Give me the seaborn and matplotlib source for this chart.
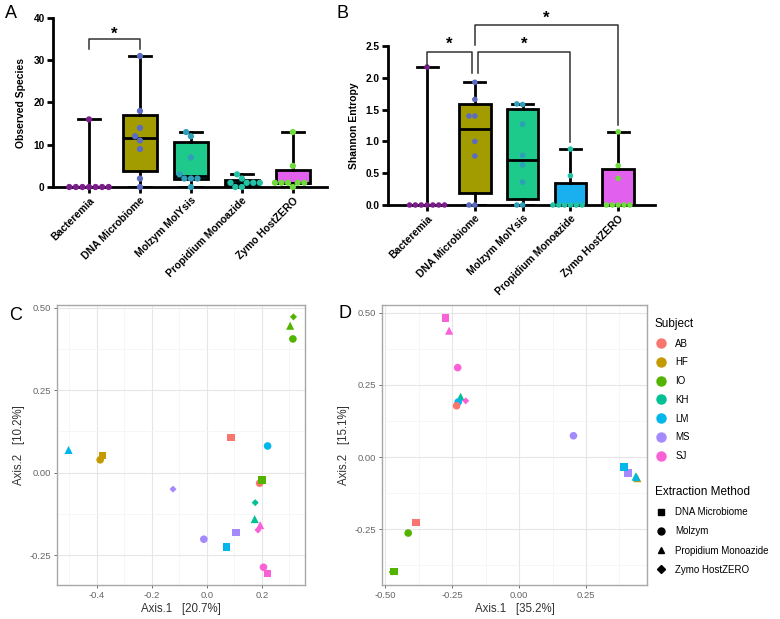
import numpy as np
import pandas as pd
import matplotlib
matplotlib.use("Agg")
import matplotlib.pyplot as plt
import seaborn as sns
from matplotlib.lines import Line2D
from matplotlib.ticker import FixedLocator

# ---------------- data ----------------
groups = ["Bacteremia", "DNA Microbiome", "Molzym MolYsis",
          "Propidium Monoazide", "Zymo HostZERO"]

obs_bact = [0, 0, 0, 0, 0, 0, 0, 16]
obs_dna = [0, 2, 9, 11, 12, 14, 18, 31]
obs_molz = [0, 2, 2, 2, 3, 7, 12, 13]
obs_pma = [0, 0, 1, 1, 1, 1, 2, 3]
obs_zymo = [0, 1, 1, 1, 1, 1, 5, 13]

sh_bact = [0, 0, 0, 0, 0, 0, 0, 2.17]
sh_dna = [0, 0, 0.77, 1.00, 1.40, 1.40, 1.66, 1.93]
sh_molz = [0, 0, 0.36, 0.63, 0.78, 1.27, 1.58, 1.59]
sh_pma = [0, 0, 0, 0, 0, 0, 0.46, 0.88]
sh_zymo = [0, 0, 0, 0, 0, 0.42, 0.62, 1.15]

subjects = ["AB", "HF", "IO", "KH", "LM", "MS", "SJ"]
methods = ["DNA Microbiome", "Molzym", "Propidium Monoazide", "Zymo HostZERO"]

c_subject = ["IO", "IO", "IO", "LM", "HF", "HF", "AB", "LM", "AB", "IO",
             "MS", "KH", "KH", "SJ", "SJ", "MS", "MS", "LM", "SJ", "SJ"]
c_method = ["Zymo HostZERO", "Propidium Monoazide", "Molzym", "Propidium Monoazide",
            "DNA Microbiome", "Molzym", "DNA Microbiome", "Molzym", "Molzym",
            "DNA Microbiome", "Zymo HostZERO", "Zymo HostZERO", "Propidium Monoazide",
            "Propidium Monoazide", "Zymo HostZERO", "DNA Microbiome", "Molzym",
            "DNA Microbiome", "Molzym", "DNA Microbiome"]
c_x = [0.315, 0.303, 0.313, -0.503, -0.379, -0.388, 0.087, 0.221, 0.192, 0.200,
       -0.123, 0.176, 0.174, 0.194, 0.186, 0.107, -0.011, 0.071, 0.206, 0.220]
c_y = [0.473, 0.446, 0.406, 0.069, 0.052, 0.039, 0.107, 0.081, -0.032, -0.022,
       -0.050, -0.091, -0.141, -0.159, -0.174, -0.182, -0.202, -0.225, -0.287, -0.306]

d_subject = ["SJ", "SJ", "SJ", "KH", "LM", "AB", "SJ", "AB", "IO", "IO", "IO",
             "MS", "HF", "KH", "LM", "MS", "LM"]
d_method = ["DNA Microbiome", "Propidium Monoazide", "Molzym", "Propidium Monoazide",
            "Molzym", "Molzym", "Zymo HostZERO", "DNA Microbiome", "Molzym",
            "Zymo HostZERO", "DNA Microbiome", "Molzym", "Propidium Monoazide",
            "Propidium Monoazide", "Propidium Monoazide", "DNA Microbiome", "DNA Microbiome"]
d_x = [-0.275, -0.262, -0.230, -0.219, -0.228, -0.234, -0.200, -0.386, -0.415,
       -0.475, -0.467, 0.203, 0.442, 0.436, 0.438, 0.408, 0.393]
d_y = [0.481, 0.438, 0.310, 0.209, 0.191, 0.178, 0.195, -0.227, -0.263,
       -0.398, -0.396, 0.074, -0.073, -0.067, -0.069, -0.056, -0.035]

# ---------------- styles ----------------
box_colors = ["#7B1E8C", "#A39C00", "#1DC98B", "#1AAFEF", "#E260EE"]
dot_colors = ["#7B1E8C", "#5A6BC3", "#2E9EBB", "#22C3A5", "#6FDB3C"]
subj_colors = ["#F8766D", "#C49A00", "#53B400", "#00C094", "#00B6EB", "#A58AFF", "#FB61D7"]
marker_map = {"DNA Microbiome": "s", "Molzym": "o",
              "Propidium Monoazide": "^", "Zymo HostZERO": "D"}
size_map = {"DNA Microbiome": 30, "Molzym": 30,
            "Propidium Monoazide": 34, "Zymo HostZERO": 13}

plt.rcParams["font.family"] = ["Liberation Sans", "DejaVu Sans"]

fig = plt.figure(figsize=(7.8, 6.19), dpi=100)
W, H = 780, 619


def place(l, r, t, b):
    return fig.add_axes([l / W, 1 - b / H, (r - l) / W, (b - t) / H])


def prism_panel(ax, values, ylabel, ymax, yticks, dot, xlim):
    df = pd.DataFrame({"group": np.repeat(groups, [len(v) for v in values]),
                       "value": np.concatenate(values)})
    stats = []
    for v in values:
        q1, med, q3 = np.percentile(v, [25, 50, 75], method="weibull")
        stats.append(dict(med=med, q1=q1, q3=q3, whislo=min(v), whishi=max(v), fliers=[]))
    bp = ax.bxp(stats, positions=range(len(groups)), widths=0.66, capwidths=0.44,
                patch_artist=True, showfliers=False, manage_ticks=False,
                boxprops=dict(lw=2, edgecolor="black"),
                medianprops=dict(color="black", lw=2),
                whiskerprops=dict(lw=2, color="black"),
                capprops=dict(lw=2, color="black"))
    for patch, c in zip(bp["boxes"], box_colors):
        patch.set_facecolor(c)
        patch.set_zorder(2)
    sns.swarmplot(data=df, x="group", y="value", hue="group", order=groups,
                  hue_order=groups, palette=dot_colors, size=dot, legend=False,
                  ax=ax, zorder=4, clip_on=False, linewidth=0, warn_thresh=1)
    ax.set_xlim(*xlim)
    ax.set_ylim(0, ymax)
    ax.set_yticks(yticks)
    ax.set_xticks(range(len(groups)))
    ax.set_xticklabels(groups, rotation=45, ha="right", rotation_mode="anchor",
                       fontsize=7.5, fontweight="bold")
    for lab in ax.get_yticklabels():
        lab.set_fontweight("bold")
        lab.set_fontsize(7.3)
    ax.set_xlabel("")
    ax.set_ylabel(ylabel, fontsize=7.5, fontweight="bold", labelpad=5)
    for s in ["top", "right"]:
        ax.spines[s].set_visible(False)
    for s in ["left", "bottom"]:
        ax.spines[s].set_linewidth(2)
    ax.tick_params(axis="both", width=2, length=4, pad=2)
    ax.set_facecolor("none")


def bracket(ax, xs, ys):
    ax.plot(xs, ys, color="#333333", lw=1.1, clip_on=False, zorder=5)


# ---------------- Panel A ----------------
axA = place(53, 327, 18, 187)
prism_panel(axA, [obs_bact, obs_dna, obs_molz, obs_pma, obs_zymo],
            "Observed Species", 40, [0, 10, 20, 30, 40], 4.5, (-0.706, 4.67))
bracket(axA, [0, 0, 1, 1], [32.7, 35.0, 35.0, 32.7])
axA.text(0.5, 36.2, "*", ha="center", va="center", fontsize=12, fontweight="bold")

# ---------------- Panel B ----------------
axB = place(388, 655, 46, 205)
prism_panel(axB, [sh_bact, sh_dna, sh_molz, sh_pma, sh_zymo],
            "Shannon Entropy", 2.5, [0, 0.5, 1.0, 1.5, 2.0, 2.5], 4.0, (-0.817, 4.77))
axB.set_yticklabels(["0.0", "0.5", "1.0", "1.5", "2.0", "2.5"], fontweight="bold", fontsize=7.3)
bracket(axB, [0, 0, 0.94, 0.94], [2.20, 2.405, 2.405, 2.075])
bracket(axB, [1.06, 1.06, 3, 3], [2.075, 2.405, 2.405, 0.99])
bracket(axB, [1, 1, 4, 4], [2.52, 2.83, 2.83, 1.26])
axB.text(0.47, 2.52, "*", ha="center", va="center", fontsize=12, fontweight="bold")
axB.text(2.03, 2.52, "*", ha="center", va="center", fontsize=12, fontweight="bold")
axB.text(2.49, 2.94, "*", ha="center", va="center", fontsize=12, fontweight="bold")


# ---------------- Panels C & D ----------------
def bw_panel(ax, xs, ys, subj, meth, xlim, ylim, xticks, xlabels, xminor, xlabel, ylabel):
    df = pd.DataFrame({"x": xs, "y": ys, "Subject": subj, "Method": meth})
    ax.set_axisbelow(True)
    sns.scatterplot(data=df, x="x", y="y", hue="Subject", hue_order=subjects,
                    palette=subj_colors, style="Method", style_order=methods,
                    markers=marker_map, size="Method", sizes=size_map,
                    size_order=methods, linewidth=0, legend=False, ax=ax, zorder=3)
    ax.set_xlim(*xlim)
    ax.set_ylim(*ylim)
    ax.set_xticks(xticks)
    ax.set_xticklabels(xlabels)
    ax.set_yticks([-0.25, 0.0, 0.25, 0.50])
    ax.set_yticklabels(["-0.25", "0.00", "0.25", "0.50"])
    ax.xaxis.set_minor_locator(FixedLocator(xminor))
    ax.yaxis.set_minor_locator(FixedLocator([-0.375, -0.125, 0.125, 0.375]))
    ax.grid(which="major", color="#E6E6E6", lw=0.8)
    ax.grid(which="minor", color="#F3F3F3", lw=0.5)
    ax.tick_params(which="minor", length=0)
    ax.tick_params(which="major", length=2.5, width=0.6, color="#555555",
                   labelcolor="#666666", labelsize=6.8, pad=2)
    for s in ax.spines.values():
        s.set_color("#A8A8A8")
        s.set_linewidth(1.0)
    ax.set_xlabel(xlabel, fontsize=8.3, color="#333333", labelpad=2)
    ax.set_ylabel(ylabel, fontsize=8.3, color="#333333", labelpad=3)


axC = place(57, 305, 305, 585)
bw_panel(axC, c_x, c_y, c_subject, c_method, (-0.545, 0.357), (-0.341, 0.509),
         [-0.4, -0.2, 0.0, 0.2], ["-0.4", "-0.2", "0.0", "0.2"],
         [-0.5, -0.3, -0.1, 0.1, 0.3], "Axis.1   [20.7%]", "Axis.2   [10.2%]")

axD = place(382, 647, 305, 585)
bw_panel(axD, d_x, d_y, d_subject, d_method, (-0.513, 0.478), (-0.443, 0.527),
         [-0.5, -0.25, 0.0, 0.25], ["-0.50", "-0.25", "0.00", "0.25"],
         [-0.375, -0.125, 0.125, 0.375], "Axis.1   [35.2%]", "Axis.2   [15.1%]")

# ---------------- Legends ----------------
subj_handles = [Line2D([], [], marker="o", ls="", color=c, markersize=6.5) for c in subj_colors]
leg1 = fig.legend(subj_handles, subjects, title="Subject", loc="upper left",
                  bbox_to_anchor=(651 / W, 1 - 314 / H), frameon=False,
                  fontsize=7.0, title_fontsize=8.5, labelspacing=0.9,
                  handletextpad=0.9, handlelength=1.2, borderaxespad=0)
leg1._legend_box.align = "left"
meth_handles = [Line2D([], [], marker=marker_map[m], ls="", color="black",
                       markersize=5.0 if m != "Zymo HostZERO" else 3.8) for m in methods]
leg2 = fig.legend(meth_handles, methods, title="Extraction Method", loc="upper left",
                  bbox_to_anchor=(651 / W, 1 - 482 / H), frameon=False,
                  fontsize=7.0, title_fontsize=8.5, labelspacing=0.95,
                  handletextpad=0.9, handlelength=1.2, borderaxespad=0)
leg2._legend_box.align = "left"

# ---------------- Panel letters ----------------
for lab, (px, py) in {"A": (5, 14), "B": (337, 14), "C": (9, 316), "D": (338, 314)}.items():
    fig.text(px / W, 1 - py / H, lab, fontsize=13, ha="left", va="center")

fig.savefig("out.png", dpi=100, facecolor="white")
